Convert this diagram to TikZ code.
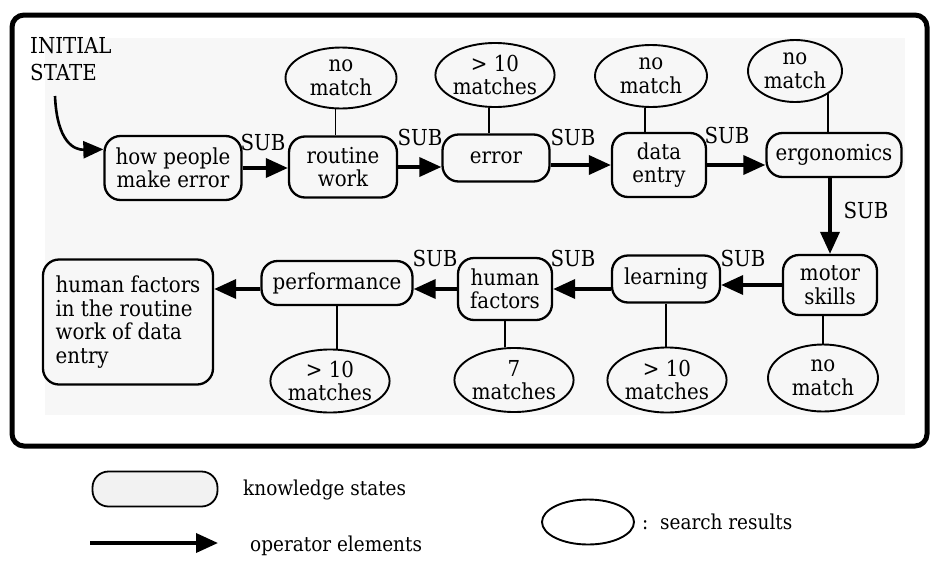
\documentclass[tikz,border=0pt]{standalone}
\usepackage{fontspec}
\setmainfont{DejaVu Serif}[FakeStretch=0.9]
\usetikzlibrary{arrows.meta,shapes.geometric}
\newcommand\figfont{\fontsize{22}{23.5}\selectfont}
\newcommand\keyfont{\fontsize{20.5}{22}\selectfont}
\begin{document}
\begin{tikzpicture}[x=1pt,y=-1pt,
  state/.style={draw, line width=2.3pt, rounded corners=16pt, align=center,
                inner sep=0pt, font=\figfont},
  result/.style={draw, ellipse, line width=1.9pt, align=center, inner sep=0pt,
                 font=\figfont},
  op/.style={line width=3.6pt, -{Triangle[length=22pt,width=19pt]}},
  link/.style={line width=1.9pt},
  sublabel/.style={font=\figfont, inner sep=0pt},
  keytext/.style={font=\keyfont, inner sep=0pt, anchor=west},
]
\useasboundingbox (0,0) rectangle (931,560);

% frame and faint page tint
\fill[black!3] (45,38) rectangle (905,415);
\draw[line width=5pt, rounded corners=12pt] (12,15) rectangle (927,446);

% start label
\node[font=\figfont, align=left, anchor=north west, inner sep=0pt,
      text depth=0pt] (init) at (30,37) {INITIAL\\[4pt]STATE};
\coordinate (initfoot) at (55,96);

% top row of knowledge states
\node[state, minimum width=137pt, minimum height=64pt] (n1) at (173,168) {how people\\make error};
\node[state, minimum width=108pt, minimum height=61pt] (n2) at (343,167) {routine\\work};
\node[state, minimum width=107pt, minimum height=47pt] (n3) at (496,158) {error};
\node[state, minimum width=94pt,  minimum height=64pt] (n4) at (659,165) {data\\entry};
\node[state, minimum width=135pt, minimum height=44pt] (n5) at (834,155) {ergonomics};

% search results above
\node[result, minimum width=111pt, minimum height=61pt] (e2) at (341,78) {no\\match};
\node[result, minimum width=110pt, minimum height=64pt] (e3) at (495,75) {> 10\\matches};
\node[result, minimum width=112pt, minimum height=62pt] (e4) at (651,76) {no\\match};
\node[result, minimum width=94pt,  minimum height=62pt] (e5) at (795,71) {no\\match};

% bottom row of knowledge states
\node[state, minimum width=94pt,  minimum height=60pt] (m) at (830,285) {motor\\skills};
\node[state, minimum width=108pt, minimum height=47pt] (l) at (666,279) {learning};
\node[state, minimum width=94pt,  minimum height=62pt] (h) at (505,289) {human\\factors};
\node[state, minimum width=151pt, minimum height=44pt] (p) at (337,283) {performance};
\node[state, minimum width=170pt, minimum height=125pt, align=left] (f) at (128,322)
      {human factors\\in the routine\\work of data\\entry};

% search results below
\node[result, minimum width=106pt, minimum height=63pt] (ep) at (330,381) {> 10\\matches};
\node[result, minimum width=108pt, minimum height=64pt] (eh) at (514,380) {7\\matches};
\node[result, minimum width=110pt, minimum height=65pt] (el) at (667,380) {> 10\\matches};
\node[result, minimum width=110pt, minimum height=67pt] (em) at (823,378) {no\\match};

% result links
\draw[link] (e2.-100) -- (e2.-100 |- n2.north);
\draw[link] (e3.-100) -- (e3.-100 |- n3.north);
\draw[link] (e4.-100) -- (e4.-100 |- n4.north);
\draw[link] (e5.-35)  -- (e5.-35 |- n5.north);
\draw[link] (p.south) -- (p.south |- ep.north);
\draw[link] (h.south) -- (h.south |- eh.north);
\draw[link] (l.south) -- (l.south |- el.north);
\draw[link] (em.north) -- (em.north |- m.south);

% operator elements
\draw[line width=2.6pt, -{Triangle[length=20pt,width=17pt]}]
  (initfoot) .. controls (57,142) and (74,150) .. (n1.165);
\draw[op] (n1.east) -- (n2.west |- n1.east);
\draw[op] (n2.east) -- (n3.west |- n2.east);
\draw[op] (n3.east |- n4.west) -- (n4.west);
\draw[op] (n4.east) -- (n5.west |- n4.east);
\draw[op] (n5.south -| m.north) -- (m.north);
\draw[op] (m.west) -- (l.east |- m.west);
\draw[op] (l.west |- h.east) -- (h.east);
\draw[op] (h.west) -- (p.east |- h.west);
\draw[op] (p.west |- h.west) -- (f.east |- h.west);

% operator labels
\node[sublabel] (s1) at (263,142) {SUB};
\node[sublabel] (s2) at (420,137) {SUB};
\node[sublabel] (s3) at (573,137) {SUB};
\node[sublabel] (s4) at (727,135) {SUB};
\node[sublabel] (s5) at (866,210) {SUB};
\node[sublabel] (s6) at (743,258) {SUB};
\node[sublabel] (s7) at (573,258) {SUB};
\node[sublabel] (s8) at (435,258) {SUB};

% key
\node[draw, fill=black!5, line width=1.8pt, rounded corners=16pt,
      minimum width=125pt, minimum height=35pt, inner sep=0pt] (kstate) at (155,489) {};
\node[keytext] (kstatet) at (243,490) {knowledge states};
\coordinate (kopa) at (90,543);
\coordinate (kopb) at (218,543);
\draw[op] (kopa) -- (kopb);
\node[keytext] (kopt) at (250,546) {operator elements};
\node[draw, ellipse, line width=1.9pt, minimum width=92pt, minimum height=45pt,
      inner sep=0pt] (kres) at (588,522) {};
\node[keytext] (krest) at (642,522) {:\ \ search results};
\end{tikzpicture}
\end{document}
